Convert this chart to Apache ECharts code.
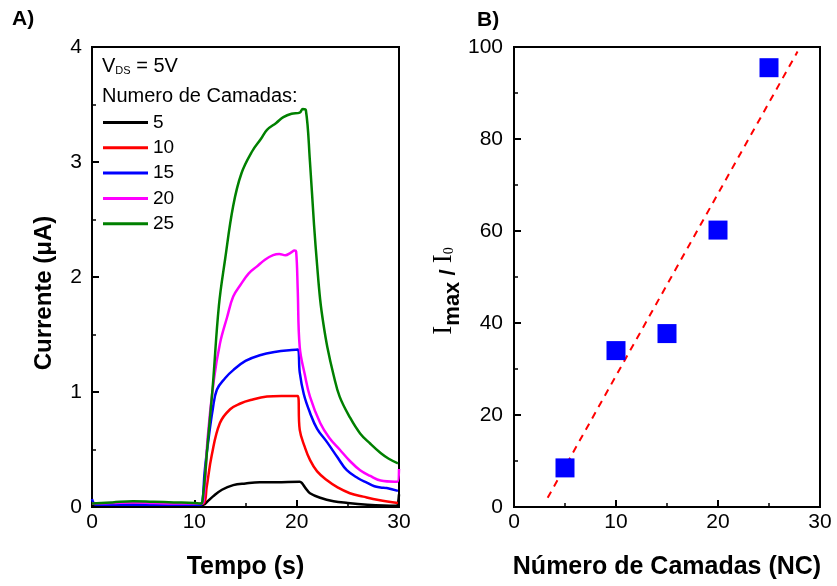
<!DOCTYPE html>
<html>
<head>
<meta charset="utf-8">
<script src="https://cdn.jsdelivr.net/npm/echarts@6/dist/echarts.min.js"></script>
<style>html,body{margin:0;padding:0;background:#fff}#main{width:837px;height:586px}</style>
</head>
<body>
<div id="main"></div>
<script>
// painel A: corrente x tempo, uma série por número de camadas
var camadas = ['5', '10', '15', '20', '25'];
var cores = ['#000000', '#ff0000', '#0000ff', '#ff00ff', '#008000'];

var t5 = [0, 2, 4, 6, 8, 10, 10.9, 11.3, 11.8, 12.7, 13.8, 15, 16.4, 18, 20.3, 20.5, 20.9, 21.3, 22.3, 23.6, 25, 26.9, 28.5, 29.8, 29.9, 30];
var i5 = [0.02, 0.025, 0.03, 0.025, 0.02, 0.02, 0.02, 0.05, 0.09, 0.15, 0.19, 0.205, 0.215, 0.215, 0.22, 0.21, 0.16, 0.12, 0.08, 0.05, 0.035, 0.02, 0.012, 0.01, 0.03, 0.11];

var t10 = [0, 2, 4, 6, 8, 10, 10.9, 11.2, 11.7, 12.5, 13.5, 14.5, 15.5, 17.1, 18.5, 20.1, 20.3, 20.8, 21.3, 22, 23, 24, 25.2, 26.5, 28, 29.9];
var i10 = [0.03, 0.03, 0.03, 0.025, 0.02, 0.02, 0.03, 0.17, 0.45, 0.73, 0.85, 0.9, 0.93, 0.96, 0.965, 0.965, 0.67, 0.52, 0.41, 0.31, 0.23, 0.17, 0.12, 0.09, 0.06, 0.035];

var t15 = [0, 0.2, 0.5, 2, 4, 6, 8, 10, 10.6, 10.8, 11, 11.4, 11.8, 12.2, 13, 13.8, 15, 16.4, 18, 19.5, 20.1, 20.3, 20.7, 21.3, 22, 23, 24, 24.9, 26, 26.9, 27.6, 28.2, 28.8, 29.9];
var i15 = [0.07, 0.03, 0.02, 0.02, 0.02, 0.02, 0.02, 0.02, 0.02, 0.05, 0.3, 0.6, 0.85, 1.02, 1.12, 1.19, 1.27, 1.32, 1.35, 1.365, 1.37, 1.17, 0.98, 0.82, 0.68, 0.56, 0.43, 0.32, 0.25, 0.21, 0.18, 0.17, 0.165, 0.14];

var t20 = [0, 2, 4, 6, 8, 10, 10.6, 10.9, 11.3, 11.9, 12.5, 13.2, 13.8, 14.5, 15.3, 16.1, 16.9, 17.7, 18.3, 18.9, 19.4, 19.8, 19.95, 20.1, 20.3, 20.8, 21.3, 22.3, 23.2, 24.2, 25.2, 26.2, 27.2, 28.2, 29.6, 29.85, 30];
var i20 = [0.03, 0.035, 0.04, 0.035, 0.03, 0.03, 0.03, 0.05, 0.6, 1.1, 1.42, 1.65, 1.83, 1.93, 2.03, 2.09, 2.15, 2.19, 2.2, 2.19, 2.21, 2.23, 2.22, 1.9, 1.39, 1.15, 0.96, 0.73, 0.6, 0.5, 0.4, 0.32, 0.27, 0.23, 0.22, 0.22, 0.33];

var t25 = [0, 2, 4, 6, 8, 10, 10.6, 10.8, 11.3, 11.8, 12.4, 13, 13.8, 14.6, 15.7, 16.5, 17.1, 18, 18.7, 19.5, 20.3, 20.6, 20.9, 21.3, 21.7, 22, 22.3, 22.6, 23, 23.6, 24.2, 25.2, 26.2, 27.2, 28.2, 29, 29.9];
var i25 = [0.03, 0.04, 0.05, 0.045, 0.04, 0.035, 0.03, 0.05, 0.55, 1.05, 1.75, 2.15, 2.62, 2.9, 3.1, 3.2, 3.28, 3.34, 3.39, 3.42, 3.43, 3.46, 3.45, 3.0, 2.45, 2.1, 1.8, 1.6, 1.39, 1.15, 0.96, 0.78, 0.64, 0.55, 0.47, 0.42, 0.38];

var tempos = [t5, t10, t15, t20, t25];
var correntes = [i5, i10, i15, i20, i25];

// painel B: Imax/I0 x número de camadas
var nc = [5, 10, 15, 20, 25];
var razao = [8.5, 34, 37.7, 60.2, 95.5];
var ajusteX = [3.3, 27.8];
var ajusteY = [2, 99];

function pares(xs, ys) {
    return xs.map(function (x, k) { return [x, ys[k]]; });
}

var fonte = 'Liberation Sans, Arial, sans-serif';
var serifa = 'Liberation Serif, Times New Roman, serif';
var rotulo = { color: '#000', fontSize: 21, fontFamily: fonte };

function eixo(extra) {
    var base = {
        axisLine: { show: true, onZero: false, lineStyle: { color: '#000', width: 2 } },
        axisTick: { show: true, inside: true, length: 7, lineStyle: { color: '#000', width: 2 } },
        minorTick: { show: true, splitNumber: 2, length: 4, lineStyle: { color: '#000', width: 1.5 } },
        splitLine: { show: false },
        nameTextStyle: { color: '#000', fontSize: 25, fontWeight: 'bold', fontFamily: fonte },
        nameLocation: 'middle'
    };
    return Object.assign(base, extra);
}

var chart = echarts.init(document.getElementById('main'));

var series = camadas.map(function (c, k) {
    return {
        name: c,
        type: 'line',
        xAxisIndex: 0,
        yAxisIndex: 0,
        data: pares(tempos[k], correntes[k]),
        showSymbol: false,
        symbol: 'none',
        smooth: 0.4,
        lineStyle: { color: cores[k], width: 2.5 },
        itemStyle: { color: cores[k] },
        z: 2 + k
    };
});

series.push({
    type: 'line',
    xAxisIndex: 1,
    yAxisIndex: 1,
    data: pares(ajusteX, ajusteY),
    symbol: 'none',
    lineStyle: { color: '#ff0000', width: 2, type: [7, 6] },
    z: 2
});
series.push({
    type: 'scatter',
    xAxisIndex: 1,
    yAxisIndex: 1,
    data: pares(nc, razao),
    symbol: 'rect',
    symbolSize: 19,
    itemStyle: { color: '#0000ff', opacity: 1 },
    z: 3
});

option = {
    backgroundColor: '#fff',
    animation: false,
    grid: [
        { left: 92, top: 47, width: 307, height: 460, show: true, borderColor: '#000', borderWidth: 2 },
        { left: 514, top: 47, width: 306, height: 460, show: true, borderColor: '#000', borderWidth: 2 }
    ],
    xAxis: [
        eixo({ gridIndex: 0, type: 'value', min: 0, max: 30, interval: 10, name: 'Tempo (s)', nameGap: 48,
               axisLabel: Object.assign({ margin: 5 }, rotulo) }),
        eixo({ gridIndex: 1, type: 'value', min: 0, max: 30, interval: 10, name: 'Número de Camadas (NC)', nameGap: 48,
               axisLabel: Object.assign({ margin: 5 }, rotulo) })
    ],
    yAxis: [
        eixo({ gridIndex: 0, type: 'value', min: 0, max: 4, interval: 1, name: 'Currente (μA)', nameGap: 36,
               nameTextStyle: { color: '#000', fontSize: 24, fontWeight: 'bold', fontFamily: fonte, padding: [0, 32, 0, 0] },
               axisLabel: Object.assign({ margin: 10 }, rotulo) }),
        eixo({ gridIndex: 1, type: 'value', min: 0, max: 100, interval: 20, nameGap: 47,
               name: '{i|I}{sub|max}{b| / }{i|I}{s0|0}',
               nameTextStyle: {
                   color: '#000',
                   padding: [0, 28, 0, 0],
                   rich: {
                       i: { fontFamily: serifa, fontSize: 27, color: '#000', verticalAlign: 'top' },
                       sub: { fontFamily: fonte, fontWeight: 'bold', fontSize: 22, color: '#000', verticalAlign: 'top', padding: [12, 0, 0, 0] },
                       b: { fontFamily: fonte, fontWeight: 'bold', fontSize: 22, color: '#000', verticalAlign: 'top', padding: [8, 0, 0, 0] },
                       s0: { fontFamily: serifa, fontSize: 14, color: '#000', verticalAlign: 'top', padding: [12, 0, 0, 0] }
                   }
               },
               axisLabel: Object.assign({ margin: 11 }, rotulo) })
    ],
    legend: {
        data: camadas,
        orient: 'vertical',
        left: 98,
        top: 108,
        icon: 'rect',
        itemWidth: 45,
        itemHeight: 3,
        itemGap: 6.3,
        textStyle: { color: '#000', fontSize: 19, fontFamily: fonte },
        selectedMode: false
    },
    graphic: [
        { type: 'text', left: 12, top: 9, style: { text: 'A)', fill: '#000', font: 'bold 21px ' + fonte } },
        { type: 'text', left: 477, top: 10, style: { text: 'B)', fill: '#000', font: 'bold 21px ' + fonte } },
        { type: 'text', left: 102, top: 56, style: {
            text: 'V{s|DS} = 5V', fill: '#000', font: '20px ' + fonte,
            rich: { s: { fontSize: 11, fontFamily: fonte, fill: '#000', verticalAlign: 'bottom', padding: [9, 0, 0, 0] } }
        } },
        { type: 'text', left: 102, top: 86, style: { text: 'Numero de Camadas:', fill: '#000', font: '20px ' + fonte } }
    ],
    series: series
};

chart.setOption(option);
</script>
</body>
</html>
